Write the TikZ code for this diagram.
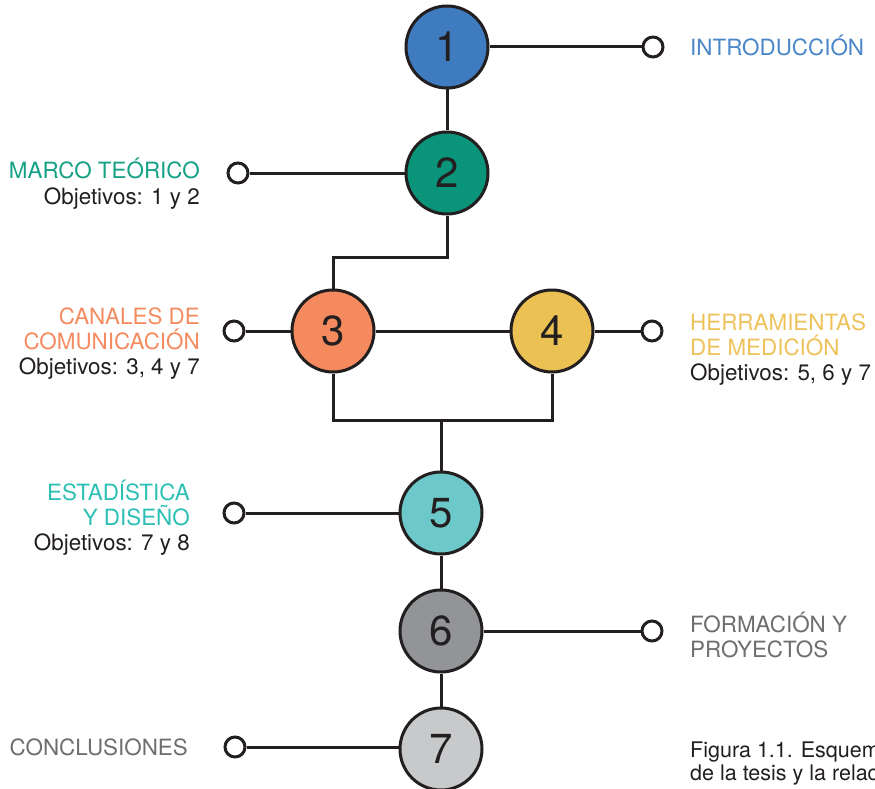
\documentclass[tikz,border=0pt]{standalone}
\usepackage{fontspec}
\setmainfont{TeX Gyre Heros}
\definecolor{ink}{HTML}{231F20}
\definecolor{cA}{HTML}{3F7BBF}
\definecolor{cB}{HTML}{0A957A}
\definecolor{cC}{HTML}{F58A5E}
\definecolor{cD}{HTML}{ECC154}
\definecolor{cE}{HTML}{6DC9C9}
\definecolor{cF}{HTML}{929497}
\definecolor{cG}{HTML}{C8C9CB}
\definecolor{tA}{HTML}{4A86C8}
\definecolor{tB}{HTML}{14A085}
\definecolor{tC}{HTML}{F48B60}
\definecolor{tD}{HTML}{EEC25A}
\definecolor{tE}{HTML}{2CBFB4}
\definecolor{tF}{HTML}{6D6E70}
\begin{document}
\begin{tikzpicture}[x=1pt,y=-1pt,
  big/.style={circle, draw=ink, line width=3pt, minimum size=82pt, inner sep=0pt,
    font=\fontsize{42}{42}\selectfont, text=ink},
  dot/.style={circle, draw=ink, fill=white, line width=3pt, minimum size=20pt, inner sep=0pt},
  link/.style={draw=ink, line width=3pt},
  lbl/.style={inner sep=0pt, font=\fontsize{22.4}{25}\selectfont},
  lblL/.style={lbl, anchor=base east, align=right},
  lblR/.style={lbl, anchor=base west, align=left}]
\useasboundingbox (0,0) rectangle (875,789);
\clip (0,0) rectangle (875,789);
% circles
\node[big, fill=cA] (c1) at (447,47) {1};
\node[big, fill=cB] (c2) at (447,173) {2};
\node[big, fill=cC] (c3) at (333,331) {3};
\node[big, fill=cD] (c4) at (552,331) {4};
\node[big, fill=cE] (c5) at (441,513) {5};
\node[big, fill=cF] (c6) at (441,631) {6};
\node[big, fill=cG] (c7) at (441,749) {7};
% end dots
\node[dot] (s1) at (653,47) {};
\node[dot] (s2) at (238,173) {};
\node[dot] (s3) at (234,331) {};
\node[dot] (s4) at (652,331) {};
\node[dot] (s5) at (234,513) {};
\node[dot] (s6) at (652,631) {};
\node[dot] (s7) at (235,747) {};
% junctions
\coordinate (j23) at (447,257);
\coordinate (j5) at (441,420);
% connectors
\draw[link] (c1) -- (s1);
\draw[link] (c2) -- (s2);
\draw[link] (c3) -- (s3);
\draw[link] (c4) -- (s4);
\draw[link] (c5) -- (s5);
\draw[link] (c6) -- (s6);
\draw[link] (s7) -- (s7 -| c7.west);
\draw[link] (c1) -- (c2);
\draw[link] (c2.south) -- (j23) -| (c3.north);
\draw[link] (c3) -- (c4);
\draw[link] (c3.south) |- (j5) -| (c4.south);
\draw[link] (j5) -- (c5.north);
\draw[link] (c5) -- (c6);
\draw[link] (c6) -- (c7);
% labels (base anchor = baseline of last line)
\node[lblR, text=tA] (l1) at (690,56) {INTRODUCCIÓN};
\node[lblL, text=tB] (l2) at (200,204) {MARCO TEÓRICO\\\textcolor{ink}{Objetivos: 1 y 2}};
\node[lblL, text=tC] (l3) at (200,374) {CANALES DE\\COMUNICACIÓN\\\textcolor{ink}{Objetivos: 3, 4 y 7}};
\node[lblR, text=tD] (l4) at (690,380) {HERRAMIENTAS\\DE MEDICIÓN\\\textcolor{ink}{Objetivos: 5, 6 y 7}};
\node[lblL, text=tE] (l5) at (190,550) {ESTADÍSTICA\\Y DISEÑO\\\textcolor{ink}{Objetivos: 7 y 8}};
\node[lblR, text=tF] (l6) at (690,657) {FORMACIÓN Y\\PROYECTOS};
\node[lblL, text=tF] (l7) at (188,755) {CONCLUSIONES};
\node[lblR, text=ink, font=\fontsize{21.5}{23}\selectfont] (cap) at (690,780) {Figura 1.1. Esquema\\de la tesis y la relación};
\end{tikzpicture}
\end{document}
